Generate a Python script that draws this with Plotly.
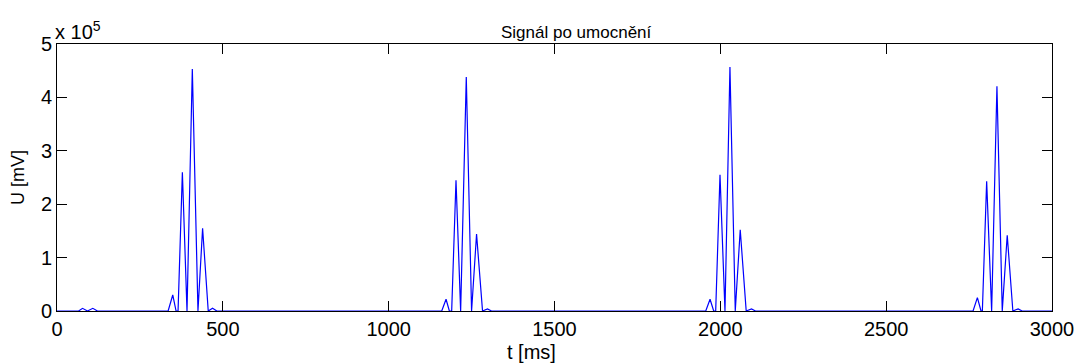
import plotly.graph_objects as go

# Time samples (ms) of the key points
t_ms = [0, 65, 77, 92, 108, 122,
        335, 349, 359, 365, 378, 392, 408, 425, 439, 456, 469, 482,
        1160, 1173, 1183, 1190, 1203, 1217, 1234, 1250, 1265, 1283, 1298, 1310,
        1956, 1969, 1980, 1986, 1999, 2014, 2029, 2045, 2060, 2078, 2094, 2106,
        2762, 2775, 2786, 2790, 2803, 2818, 2834, 2850, 2865, 2882, 2898, 2910,
        3000]
# Squared signal values
u_vals = [0, 0, 5000, 0, 5000, 0,
          0, 30000, 0, 0, 260000, 0, 453000, 0, 155000, 0, 5000, 0,
          0, 22000, 0, 0, 245000, 0, 438000, 0, 144000, 0, 4000, 0,
          0, 22000, 0, 0, 255000, 0, 457000, 0, 152000, 0, 4000, 0,
          0, 25000, 0, 0, 243000, 0, 421000, 0, 142000, 0, 4000, 0,
          0]

x_ticks = [0, 500, 1000, 1500, 2000, 2500, 3000]
y_ticks = [0, 100000, 200000, 300000, 400000, 500000]
y_tick_text = ["0", "1", "2", "3", "4", "5"]

title_text = "Signál po umocnění"
x_label = "t [ms]"
y_label = "U [mV]"
exp_label = "x 10<sup>5</sup>"

FONT = "Liberation Sans, Arial, Helvetica, sans-serif"
W, H = 1076, 363
L, R, T, B = 57, 24, 44, 52
pw = W - L - R
ph = H - T - B

def px_x(px):
    return (px - L) / pw

def px_y(py):
    return (H - B - py) / ph

fig = go.Figure()
fig.add_trace(go.Scatter(x=t_ms, y=u_vals, mode="lines",
                         line=dict(color="#0000FF", width=1.2), showlegend=False))

fig.update_layout(
    width=W, height=H,
    margin=dict(l=L, r=R, t=T, b=B, autoexpand=False),
    paper_bgcolor="white", plot_bgcolor="white",
    font=dict(family=FONT, color="black", size=20),
)
fig.update_xaxes(range=[0, 3000], tickvals=x_ticks, ticks="inside", ticklen=10,
                 tickcolor="black", showline=True, linecolor="black", linewidth=1,
                 mirror="ticks", showgrid=False, zeroline=False, automargin=False,
                 tickfont=dict(size=20, family=FONT, color="black"))
fig.update_yaxes(range=[0, 500000], tickvals=y_ticks, ticktext=y_tick_text,
                 ticks="inside", ticklen=10, tickcolor="black", showline=True,
                 linecolor="black", linewidth=1, mirror="ticks", showgrid=False,
                 zeroline=False, automargin=False,
                 tickfont=dict(size=20, family=FONT, color="black"))

fig.add_annotation(text=title_text, xref="paper", yref="paper",
                   x=px_x(576), y=px_y(33), xanchor="center", yanchor="middle",
                   showarrow=False, font=dict(size=17, family=FONT, color="black"))
fig.add_annotation(text=x_label, xref="paper", yref="paper",
                   x=px_x(531), y=px_y(352), xanchor="center", yanchor="middle",
                   showarrow=False, font=dict(size=20, family=FONT, color="black"))
fig.add_annotation(text=y_label, xref="paper", yref="paper", textangle=-90,
                   x=px_x(18), y=px_y(178), xanchor="center", yanchor="middle",
                   showarrow=False, font=dict(size=18, family=FONT, color="black"))
fig.add_annotation(text=exp_label, xref="paper", yref="paper",
                   x=0, y=1, xanchor="left", yanchor="bottom", xshift=-4, yshift=-1,
                   showarrow=False, font=dict(size=20, family=FONT, color="black"))

fig.write_html(
    "out.html",
    config={"displayModeBar": False},
    post_script="document.body.style.margin='0';document.body.style.overflow='hidden';",
)
